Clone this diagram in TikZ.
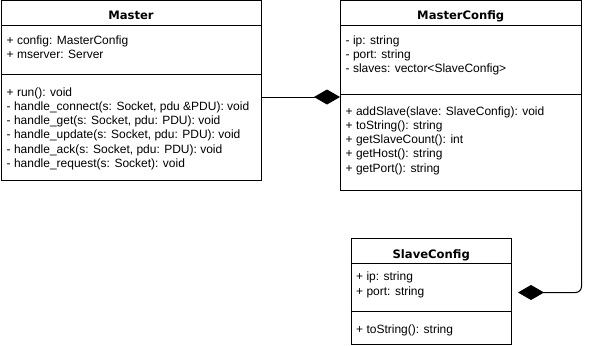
\documentclass[tikz,border=0pt]{standalone}
\usepackage{fontspec}
\setmainfont{Liberation Sans}
\newfontfamily\umlheadfamily{DejaVu Sans}
\usetikzlibrary{arrows.meta}

\newcommand{\umlhead}{\umlheadfamily\bfseries\fontsize{11.6pt}{14pt}\selectfont}
\newcommand{\umltext}{\fontsize{12pt}{14.3pt}\selectfont}

\tikzset{
  classbox/.style={draw,line width=1pt,anchor=north west,inner sep=0pt},
  classname/.style={font=\umlhead,anchor=base,inner sep=0pt},
  members/.style={font=\umltext,anchor=north west,align=left,inner sep=0pt},
  composition/.style={line width=1pt,-{Diamond[length=26pt,width=15pt]}}
}

\begin{document}
\begin{tikzpicture}[x=1pt,y=-1pt]
  \useasboundingbox (0,0) rectangle (607,345);

  % class outlines
  \node[classbox,minimum width=260pt,minimum height=179.5pt] (master) at (0.5,0.5) {};
  \node[classbox,minimum width=240.5pt,minimum height=189.5pt] (mcfg) at (340,0.5) {};
  \node[classbox,minimum width=160.5pt,minimum height=106.5pt] (scfg) at (350.5,237.5) {};

  % compartment lines
  \draw[line width=1pt] ([yshift=-25.5pt]master.north west) -- ([yshift=-25.5pt]master.north east);
  \draw[line width=1pt] ([yshift=-73.5pt]master.north west) -- ([yshift=-73.5pt]master.north east);
  \draw[line width=1pt] ([yshift=-25.5pt]mcfg.north west) -- ([yshift=-25.5pt]mcfg.north east);
  \draw[line width=1pt] ([yshift=-93.5pt]mcfg.north west) -- ([yshift=-93.5pt]mcfg.north east);
  \draw[line width=1pt] ([yshift=-25.8pt]scfg.north west) -- ([yshift=-25.8pt]scfg.north east);
  \draw[line width=1pt] ([yshift=-73.5pt]scfg.north west) -- ([yshift=-73.5pt]scfg.north east);

  % Master
  \node[classname] (master-name) at ([yshift=-18.8pt]master.north) {Master};
  \node[members] (master-attr) at ([xshift=6pt,yshift=-34.7pt]master.north west)
    {+ config: MasterConfig\\+ mserver: Server};
  \node[members] (master-ops) at ([xshift=6pt,yshift=-86.7pt]master.north west)
    {+ run(): void\\
     - handle\_connect(s: Socket, pdu \&PDU): void\\
     - handle\_get(s: Socket, pdu: PDU): void\\
     - handle\_update(s: Socket, pdu: PDU): void\\
     - handle\_ack(s: Socket, pdu: PDU): void\\
     - handle\_request(s: Socket): void};

  % MasterConfig
  \node[classname] (mcfg-name) at ([yshift=-18.8pt]mcfg.north) {MasterConfig};
  \node[members] (mcfg-attr) at ([xshift=5.5pt,yshift=-34.7pt]mcfg.north west)
    {- ip: string\\- port: string\\- slaves: vector<SlaveConfig>};
  \node[members] (mcfg-ops) at ([xshift=5.5pt,yshift=-105.7pt]mcfg.north west)
    {+ addSlave(slave: SlaveConfig): void\\
     + toString(): string\\
     + getSlaveCount(): int\\
     + getHost(): string\\
     + getPort(): string};

  % SlaveConfig
  \node[classname] (scfg-name) at ([yshift=-20.8pt]scfg.north) {SlaveConfig};
  \node[members] (scfg-attr) at ([xshift=5.5pt,yshift=-34.4pt]scfg.north west)
    {+ ip: string\\+ port: string};
  \node[members] (scfg-ops) at ([xshift=5.5pt,yshift=-86.7pt]scfg.north west)
    {+ toString(): string};

  % compositions
  \draw[composition] ([yshift=-96.5pt]master.north east) -- ([yshift=-96.5pt]mcfg.north west);
  \draw[composition,rounded corners=6pt] (mcfg.south east) |- ([xshift=6pt,yshift=-55pt]scfg.north east);
\end{tikzpicture}
\end{document}
